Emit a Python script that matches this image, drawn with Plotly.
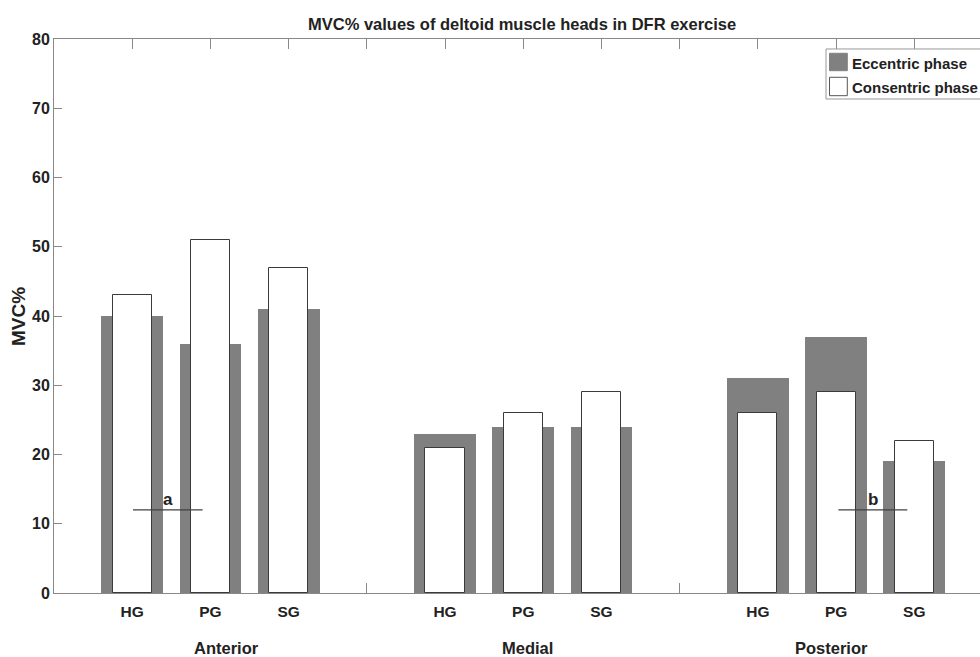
import plotly.graph_objects as go

groups = ["Anterior", "Medial", "Posterior"]
categories = ["HG", "PG", "SG"]
eccentric = [40, 36, 41, 23, 24, 24, 31, 37, 19]
concentric = [43, 51, 47, 21, 26, 29, 26, 29, 22]
series_names = ["Eccentric phase", "Consentric phase"]
sig_labels = ["a", "b"]
sig_level = [12, 12]

# x positions: each group of three bars followed by an empty slot
xpos = [1 + 4 * g + i for g in range(len(groups)) for i in range(len(categories))]
tickvals = list(range(1, 13))
ticktext = [categories[xpos.index(v) % 3] if v in xpos else "" for v in tickvals]

FONT = "Liberation Sans, Arial, sans-serif"
GRAY = "#808080"
TXT = "#222222"

fig = go.Figure()
fig.add_trace(go.Bar(x=xpos, y=eccentric, width=0.79, name=series_names[0],
                     marker=dict(color=GRAY, line=dict(width=0))))
fig.add_trace(go.Bar(x=xpos, y=concentric, width=0.5, name=series_names[1],
                     marker=dict(color="white", line=dict(color="#3a3a3a", width=1))))

# significance lines
sig_x = [(1.01, 1.9), (10.03, 10.91)]
for (x0, x1), lab, lvl in zip(sig_x, sig_labels, sig_level):
    fig.add_shape(type="line", xref="x", yref="y", x0=x0, x1=x1, y0=lvl, y1=lvl,
                  line=dict(color="#404040", width=1.3))
    fig.add_annotation(x=(x0 + x1) / 2, y=lvl, xref="x", yref="y", text=lab, showarrow=False,
                       yanchor="bottom", yshift=-1,
                       font=dict(family=FONT, size=17, color=TXT, weight="bold"))

# group labels
group_x = [2.2, 6.05, 9.94]
for gx, gname in zip(group_x, groups):
    fig.add_annotation(x=gx, y=-0.0993, xref="x", yref="paper", text=gname, showarrow=False,
                       yanchor="middle", font=dict(family=FONT, size=16.5, color=TXT, weight="bold"))

# title
fig.add_annotation(x=5.99, y=1.027, xref="x", yref="paper",
                   text="MVC% values of deltoid muscle heads in DFR exercise", showarrow=False,
                   yanchor="middle", font=dict(family=FONT, size=16.5, color=TXT, weight="bold"))

# y label
fig.add_annotation(x=-0.0389, y=0.5, xref="paper", yref="paper", text="MVC%", showarrow=False,
                   textangle=-90, xanchor="center", yanchor="middle",
                   font=dict(family=FONT, size=19, color=TXT, weight="bold"))

# legend (drawn manually so it can run off the right edge like the reference)
fig.add_shape(type="rect", xref="paper", yref="paper", x0=0.8337, x1=1.1, y0=0.8917, y1=0.982,
              line=dict(color="#999", width=1), fillcolor="white", layer="above")
fig.add_shape(type="rect", xref="paper", yref="paper", x0=0.8375, x1=0.8567, y0=0.9428, y1=0.9742,
              line=dict(color=GRAY, width=1), fillcolor=GRAY, layer="above")
fig.add_shape(type="rect", xref="paper", yref="paper", x0=0.8375, x1=0.8567, y0=0.8977, y1=0.9309,
              line=dict(color="#555", width=1), fillcolor="white", layer="above")
for yy, nm in zip([0.9554, 0.9124], series_names):
    fig.add_annotation(x=0.8596, y=yy, xref="paper", yref="paper", text=nm, showarrow=False,
                       xanchor="left", yanchor="middle",
                       font=dict(family=FONT, size=15, color=TXT, weight="bold"))

fig.update_layout(
    width=980, height=657,
    margin=dict(l=54, r=0, t=39, b=64),
    plot_bgcolor="white", paper_bgcolor="white",
    barmode="overlay", bargap=0,
    showlegend=False,
    xaxis=dict(range=[0, 11.84], tickvals=tickvals, ticktext=ticktext,
               showgrid=False, zeroline=False, showline=True, linecolor="#888", linewidth=1,
               mirror="ticks", ticks="inside", ticklen=10, tickcolor="#888", layer="below traces",
               ticklabelstandoff=4,
               tickfont=dict(family=FONT, size=15.5, color=TXT, weight="bold")),
    yaxis=dict(range=[0, 80], dtick=10, showgrid=False, zeroline=False,
               showline=True, linecolor="#888", linewidth=1, mirror=False,
               ticks="inside", ticklen=8, tickcolor="#888", layer="below traces",
               tickfont=dict(family=FONT, size=16, color=TXT, weight="bold")),
)

fig.write_html("out.html", config={"displayModeBar": False},
               post_script="document.body.style.margin='0';document.body.style.overflow='hidden';")
